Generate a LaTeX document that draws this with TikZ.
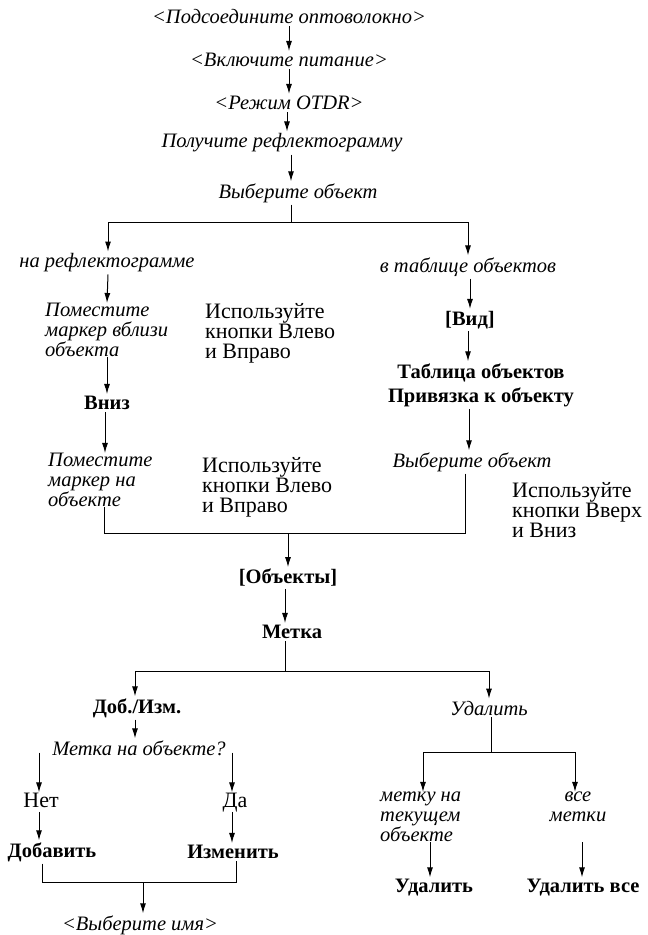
\documentclass[tikz,border=0pt]{standalone}
\usepackage{fontspec}
\setmainfont{Liberation Serif}
\usetikzlibrary{arrows.meta}

\begin{document}
\begin{tikzpicture}[x=1pt, y=-1pt, >={Latex[length=10pt,width=6pt]},
  it/.style={font=\fontsize{20.5}{20}\selectfont\itshape, inner sep=2pt},
  bd/.style={font=\fontsize{20.5}{24}\selectfont\bfseries, inner sep=2pt},
  rm/.style={font=\fontsize{22}{20}\selectfont, inner sep=0pt, align=left},
  ln/.style={line width=0.8pt},
  ar/.style={->, line width=1pt}]
  \useasboundingbox (0,0) rectangle (648,935);

  \node[it] (connect) at (289,17) {<Подсоедините оптоволокно>};
  \node[it] (power) at (289,60) {<Включите питание>};
  \node[it] (otdr) at (289,103) {<Режим OTDR>};
  \node[it] (trace) at (282,143) {Получите рефлектограмму};
  \node[it] (pick) at (298,193) {Выберите объект};
  \draw[ar] (connect) -- (power);
  \draw[ar] (power) -- (otdr);
  \draw[ar] ([xshift=-2pt]otdr.south) -- ([xshift=5pt]trace.north);
  \draw[ar] ([xshift=9pt]trace.south) -- ([xshift=-7pt]pick.north);

  \coordinate (split) at (291,222);
  \node[it] (ontrace) at (107,263) {на рефлектограмме};
  \node[it] (intable) at (468,267) {в таблице объектов};
  \draw[ln] ([xshift=-7pt]pick.south) -- (split);
  \draw[ar] (split) -| ([xshift=1pt]ontrace.north);
  \draw[ar] (split) -| (intable.north);

  \node[it, align=left, anchor=west, inner sep=0pt] (near) at (45,330)
    {Поместите\\маркер вблизи\\объекта};
  \node[rm, anchor=west] (lr1) at (205,333) {Используйте\\кнопки Влево\\и Вправо};
  \node[bd] (down) at (107,403) {Вниз};
  \node[it, align=left, anchor=west, inner sep=0pt] (onobj) at (48,480)
    {Поместите\\маркер на\\объекте};
  \node[rm, anchor=west] (lr2) at (202,487) {Используйте\\кнопки Влево\\и Вправо};
  \draw[ar] ([xshift=1pt]ontrace.south) -- (ontrace.south |- near.north);
  \draw[ar] (down.north |- near.south) -- (down.north);
  \draw[ar] ([xshift=-2pt]down.south) -- ([xshift=-2pt]down.south |- onobj.north);

  \node[bd] (view) at (470,320) {[Вид]};
  \node[bd, align=center] (table) at (481,385) {Таблица объектов\\Привязка к объекту};
  \node[it] (pick2) at (472,462) {Выберите объект};
  \node[rm, anchor=west] (ud) at (512,510) {Используйте\\кнопки Вверх\\и Вниз};
  \draw[ar] ([xshift=2pt]intable.south) -- (view.north);
  \draw[ar] ([xshift=-2pt]view.south) -- ([xshift=-2pt]view.south |- table.north);
  \draw[ar] ([xshift=-12pt]table.south) -- ([xshift=-3pt]pick2.north);

  \coordinate (join) at (288,533);
  \node[bd] (objects) at (288,578) {[Объекты]};
  \node[bd] (mark) at (292,632) {Метка};
  \draw[ln] (onobj.south -| 104,0) |- (join);
  \draw[ln] ([xshift=-7pt]pick2.south) |- (join);
  \draw[ar] (join) -- (objects.north);
  \draw[ar] ([xshift=-3pt]objects.south) -- ([xshift=-7pt]mark.north);

  \coordinate (split2) at (285,671);
  \node[bd] (addedit) at (137,708) {Доб./Изм.};
  \node[it] (delete) at (489,708) {Удалить};
  \draw[ln] ([xshift=-7pt]mark.south) -- (split2);
  \draw[ar] (split2) -| ([xshift=-2pt]addedit.north);
  \draw[ar] (split2) -| (delete.north);

  \node[it] (isthere) at (139,748) {Метка на объекте?};
  \node[rm, anchor=base] (no) at (41,807) {Нет};
  \node[rm, anchor=base] (yes) at (235,807) {Да};
  \node[bd] (add) at (52,852) {Добавить};
  \node[bd] (edit) at (233,852) {Изменить};
  \node[it] (name) at (140,925) {<Выберите имя>};
  \coordinate (join2) at (143,882);
  \draw[ar] ([xshift=-2pt]addedit.south) -- ([xshift=-4pt]isthere.north);
  \draw[ar] ([yshift=5pt]isthere.south -| 39,0) -- (39,0 |- no.north);
  \draw[ar] ([yshift=5pt]isthere.south -| 232,0) -- (232,0 |- yes.north);
  \draw[ar] (39,0 |- yes.south) -- (39,0 |- add.north);
  \draw[ar] (232,0 |- yes.south) -- (232,0 |- edit.north);
  \draw[ln] (add.south -| 42,0) |- (join2);
  \draw[ln] (edit.south -| 236,0) |- (join2);
  \draw[ar] (join2) -- (name.north -| join2);

  \coordinate (split3) at (491,752);
  \node[it, align=left, anchor=west, inner sep=0pt] (current) at (380,817)
    {метку на\\текущем\\объекте};
  \node[it, align=center, inner sep=0pt] (every) at (578,807) {все\\метки};
  \node[bd] (del) at (434,888) {Удалить};
  \node[bd] (delall) at (583,888) {Удалить все};
  \draw[ln] ([xshift=2pt]delete.south) -- (split3);
  \draw[ar] (split3) -| (423,0 |- current.north);
  \draw[ar] (split3) -| (575,0 |- current.north);
  \draw[ar] (430,0 |- current.south) -- (430,0 |- del.north);
  \draw[ar] (582,0 |- current.south) -- (582,0 |- delall.north);
\end{tikzpicture}
\end{document}
